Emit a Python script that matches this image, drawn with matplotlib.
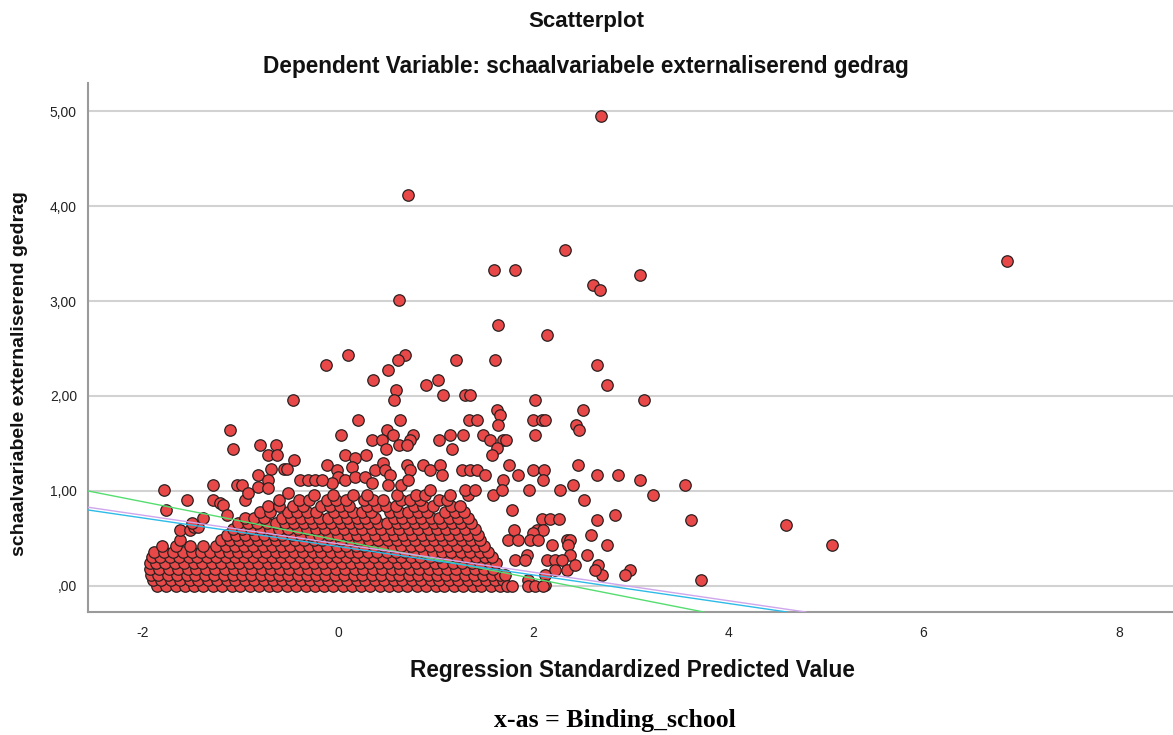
import matplotlib

matplotlib.use("Agg")
import matplotlib.pyplot as plt
import numpy as np

W, H = 1173, 735

# dense part of the cloud, one list of x positions per response level
cloud_levels = [0.00, 0.06, 0.12, 0.18, 0.24, 0.30, 0.36, 0.42, 0.48, 0.54,
                0.60, 0.66, 0.72, 0.78, 0.84, 0.90, 0.96]
cloud_rows = [
    [-1.85, -1.76, -1.66, -1.57, -1.47, -1.38, -1.28, -1.19, -1.09, -1.00, -0.90, -0.81,
     -0.71, -0.62, -0.52, -0.43, -0.33, -0.24, -0.14, -0.05, 0.05, 0.14, 0.24, 0.33,
     0.43, 0.52, 0.62, 0.71, 0.81, 0.90, 1.00, 1.09, 1.19, 1.28, 1.38, 1.47, 1.57, 1.66],
    [-1.90, -1.81, -1.71, -1.62, -1.52, -1.43, -1.33, -1.24, -1.14, -1.05, -0.95, -0.86,
     -0.76, -0.67, -0.57, -0.48, -0.38, -0.29, -0.19, -0.10, 0.00, 0.09, 0.19, 0.28,
     0.38, 0.47, 0.57, 0.66, 0.76, 0.85, 0.95, 1.04, 1.14, 1.23, 1.33, 1.42, 1.52, 1.61, 1.69],
    [-1.92, -1.84, -1.74, -1.65, -1.55, -1.46, -1.36, -1.27, -1.17, -1.08, -0.98, -0.89,
     -0.79, -0.70, -0.60, -0.51, -0.41, -0.32, -0.22, -0.13, -0.03, 0.06, 0.16, 0.25,
     0.35, 0.44, 0.54, 0.63, 0.73, 0.82, 0.92, 1.01, 1.11, 1.20, 1.30, 1.39, 1.49, 1.58, 1.66],
    [-1.93, -1.83, -1.73, -1.64, -1.54, -1.45, -1.35, -1.26, -1.16, -1.07, -0.97, -0.88,
     -0.78, -0.69, -0.59, -0.50, -0.40, -0.31, -0.21, -0.12, -0.02, 0.07, 0.17, 0.26,
     0.36, 0.45, 0.55, 0.64, 0.74, 0.83, 0.93, 1.02, 1.12, 1.21, 1.31, 1.40, 1.50, 1.59],
    [-1.93, -1.86, -1.77, -1.67, -1.58, -1.48, -1.39, -1.29, -1.20, -1.10, -1.01, -0.91,
     -0.82, -0.72, -0.63, -0.53, -0.44, -0.34, -0.25, -0.15, -0.06, 0.04, 0.13, 0.23,
     0.32, 0.42, 0.51, 0.61, 0.70, 0.80, 0.89, 0.99, 1.08, 1.18, 1.27, 1.37, 1.46, 1.56, 1.62],
    [-1.91, -1.82, -1.72, -1.63, -1.53, -1.44, -1.34, -1.25, -1.15, -1.06, -0.96, -0.87,
     -0.77, -0.68, -0.58, -0.49, -0.39, -0.30, -0.20, -0.11, -0.01, 0.08, 0.18, 0.27,
     0.37, 0.46, 0.56, 0.65, 0.75, 0.84, 0.94, 1.03, 1.13, 1.22, 1.32, 1.41, 1.51, 1.58],
    [-1.88, -1.78, -1.69, -1.59, -1.50, -1.40, -1.31, -1.21, -1.12, -1.02, -0.93, -0.83,
     -0.74, -0.64, -0.55, -0.45, -0.36, -0.26, -0.17, -0.07, 0.02, 0.12, 0.21, 0.31,
     0.40, 0.50, 0.59, 0.69, 0.78, 0.88, 0.97, 1.07, 1.16, 1.26, 1.35, 1.45, 1.54],
    [-1.80, -1.66, -1.52, -1.38, -1.25, -1.15, -1.06, -0.96, -0.87, -0.77, -0.68, -0.58,
     -0.49, -0.39, -0.30, -0.20, -0.11, -0.01, 0.08, 0.18, 0.27, 0.37, 0.46, 0.56,
     0.65, 0.75, 0.84, 0.94, 1.03, 1.13, 1.22, 1.32, 1.41, 1.50],
    [-1.20, -1.11, -1.01, -0.92, -0.82, -0.73, -0.63, -0.54, -0.44, -0.35, -0.25, -0.16,
     -0.06, 0.03, 0.13, 0.22, 0.32, 0.41, 0.51, 0.60, 0.70, 0.79, 0.89, 0.98,
     1.08, 1.17, 1.27, 1.36, 1.46],
    [-1.14, -1.04, -0.95, -0.85, -0.76, -0.66, -0.57, -0.47, -0.38, -0.28, -0.19, -0.09,
     0.00, 0.10, 0.19, 0.29, 0.38, 0.48, 0.57, 0.67, 0.76, 0.86, 0.95, 1.05,
     1.14, 1.24, 1.33, 1.43],
    [-1.08, -0.98, -0.89, -0.79, -0.70, -0.60, -0.51, -0.41, -0.32, -0.22, -0.13, -0.03,
     0.06, 0.16, 0.25, 0.35, 0.44, 0.54, 0.63, 0.73, 0.82, 0.92, 1.01, 1.11,
     1.20, 1.30, 1.40],
    [-1.02, -0.92, -0.83, -0.73, -0.64, -0.54, -0.45, -0.35, -0.26, -0.16, -0.07, 0.03,
     0.12, 0.22, 0.31, 0.41, 0.50, 0.60, 0.69, 0.79, 0.88, 0.98, 1.07, 1.17,
     1.26, 1.36],
    [-0.95, -0.86, -0.76, -0.57, -0.48, -0.38, -0.29, -0.19, -0.10, 0.00, 0.09, 0.19,
     0.28, 0.38, 0.57, 0.66, 0.76, 0.85, 0.95, 1.04, 1.14, 1.23, 1.33],
    [-0.80, -0.70, -0.51, -0.42, -0.32, -0.23, -0.04, 0.06, 0.15, 0.25, 0.34, 0.53,
     0.63, 0.72, 0.82, 0.91, 1.10, 1.20, 1.29],
    [-0.72, -0.60, -0.46, -0.36, -0.17, -0.08, 0.02, 0.11, 0.30, 0.40, 0.49, 0.59,
     0.78, 0.87, 0.97, 1.16, 1.25],
    [-0.60, -0.40, -0.30, -0.11, -0.02, 0.08, 0.27, 0.36, 0.46, 0.65, 0.74, 0.84, 1.03, 1.12],
    [-0.25, -0.05, 0.15, 0.30, 0.60, 0.80, 0.89, 1.15, 1.33, 1.59],
]

# individual points outside the dense cloud
sparse_x = [
    2.69, 0.72, 2.33, 6.85, 1.60, 1.81, 3.09, 2.61, 2.68, 0.63, 1.64, 2.14,
    0.10, 0.69, 0.62, 1.21, 1.61, -0.12, 2.65, 0.51, 0.36, 1.02, 0.90, 2.76,
    0.59, 1.08, 1.30, 1.35, -0.46, 0.57, 2.02, 3.14, 1.63, 2.51, 1.66, 0.21,
    0.64, 1.34, 1.42, 2.00, 2.09, 2.12, 1.64, 2.44, 2.47, -1.11, 0.50, 0.03,
    0.56, 0.77, 1.15, 1.28, 1.49, 2.02, 0.35, 0.45, 0.74, 1.03, 1.56, 1.69,
    1.72, -0.80, -0.64, 0.49, 0.63, 0.71, 1.63, -1.08, 1.17, -0.72, -0.62, 0.07,
    0.29, 1.58, 0.17, -0.45,
    -0.11, -0.01, 0.14, 0.00, 0.07, 0.17, 0.28, 0.38, 0.46, 0.35, -0.06,
    -0.69, -0.55, -0.52, -0.82, -0.72, -0.82, -0.72, -0.51, -0.39, -0.31, -0.24, -0.16,
    0.48, 0.53, 0.71, 0.74, 0.87, 0.94, 1.05, 1.07, 1.27, 1.35, 1.42, 1.51,
    1.69, 0.51, 0.65, 0.72, 0.94, 1.30, 1.40, 1.68, 1.75, 1.84, 2.00, 2.11,
    2.10, 2.46, 2.65, 2.87, 3.09, 1.96, 2.27, 2.41, 3.56, 3.23, 2.52,
    -1.78, -1.76, -1.55, -1.28, -1.28, -1.03, -0.98, -0.95, -1.21, -1.18, -1.14, -0.92,
    -1.62, -1.62, -1.52, -1.48, -1.43, -1.50, -1.38,
    1.78, 2.84, 2.65, 3.62, 4.59, 5.06, 2.09, 2.17, 2.26, 1.80, 2.04, 2.10,
    2.00, 2.59, 1.74, 1.84, 1.97, 2.05, 2.35, 2.38, 2.19, 2.36, 2.76, 2.38,
    2.55, 1.94, 1.81, 1.92, 2.14, 2.22, 2.30, 2.22, 2.35, 2.43, 2.66, 2.70,
    2.63, 2.99, 2.94, 2.12, 2.12, 1.95, 1.71, 3.72, 1.73, 1.78, 1.95, 2.02, 2.10,
]
sparse_y = [
    4.95, 4.12, 3.54, 3.42, 3.33, 3.33, 3.27, 3.17, 3.12, 3.01, 2.75, 2.64,
    2.43, 2.43, 2.38, 2.38, 2.38, 2.33, 2.33, 2.27, 2.17, 2.17, 2.12, 2.12,
    2.06, 2.01, 2.01, 2.01, 1.96, 1.96, 1.96, 1.96, 1.85, 1.85, 1.80, 1.75,
    1.75, 1.75, 1.75, 1.75, 1.75, 1.75, 1.69, 1.69, 1.64, 1.64, 1.64, 1.59,
    1.59, 1.59, 1.59, 1.59, 1.59, 1.59, 1.54, 1.54, 1.54, 1.54, 1.54, 1.54,
    1.54, 1.48, 1.48, 1.44, 1.48, 1.48, 1.45, 1.44, 1.44, 1.38, 1.38, 1.38,
    1.38, 1.38, 1.35, 1.33,
    1.27, 1.22, 1.25, 1.15, 1.12, 1.15, 1.15, 1.22, 1.29, 1.08, 1.08,
    1.23, 1.23, 1.23, 1.17, 1.12, 1.04, 1.03, 0.98, 1.12, 1.12, 1.12, 1.12,
    1.22, 1.17, 1.27, 1.22, 1.27, 1.22, 1.27, 1.17, 1.22, 1.22, 1.22, 1.17,
    1.12, 1.06, 1.06, 1.12, 1.01, 1.01, 1.01, 1.01, 1.27, 1.17, 1.22, 1.22,
    1.12, 1.27, 1.17, 1.17, 1.12, 1.01, 1.01, 1.06, 1.06, 0.96, 0.91,
    1.01, 0.80, 0.91, 1.06, 0.91, 1.06, 1.06, 0.91, 0.87, 0.85, 0.75, 0.98,
    0.48, 0.59, 0.59, 0.62, 0.62, 0.66, 0.72,
    0.80, 0.75, 0.69, 0.69, 0.64, 0.43, 0.70, 0.70, 0.70, 0.59, 0.59, 0.59,
    0.56, 0.54, 0.48, 0.48, 0.48, 0.48, 0.48, 0.48, 0.43, 0.43, 0.43, 0.33,
    0.33, 0.33, 0.27, 0.27, 0.27, 0.27, 0.27, 0.17, 0.17, 0.22, 0.22, 0.12,
    0.17, 0.17, 0.12, 0.12, 0.01, 0.06, 0.12, 0.06, 0.00, 0.00, 0.00, 0.00, 0.00,
]

# fit lines (intercept at x = 0, slope)
fit_intercepts = [0.483, 0.445, 0.416]
fit_slopes = [-0.202, -0.150, -0.150]
fit_colors = ["#55dd70", "#cfa6ec", "#2dbbe8"]

y_ticks = [0, 1, 2, 3, 4, 5]
y_labels = [",00", "1,00", "2,00", "3,00", "4,00", "5,00"]
x_ticks = [-2, 0, 2, 4, 6, 8]

cloud_x = np.concatenate([np.asarray(row) for row in cloud_rows])
cloud_y = np.concatenate([np.full(len(row), lvl) for lvl, row in zip(cloud_levels, cloud_rows)])
x = np.concatenate([cloud_x, sparse_x])
y = np.concatenate([cloud_y, sparse_y])

plt.rcParams["font.family"] = ["Liberation Sans", "DejaVu Sans"]

fig = plt.figure(figsize=(W / 100, H / 100), dpi=100)
ax = fig.add_axes([88 / W, 1 - 612 / H, (W - 88) / W, (612 - 83) / H])

ax.scatter(x, y, s=68, facecolor="#e84848", edgecolor="#2a2020", linewidth=0.9, zorder=3)
for b, m, c in zip(fit_intercepts, fit_slopes, fit_colors):
    ax.axline((0, b), slope=m, color=c, linewidth=1.0, zorder=4)

ax.set_xlim(-2.561, 8.555)
ax.set_ylim(-0.274, 5.295)
ax.set_yticks(y_ticks, y_labels)
ax.set_xticks(x_ticks, [str(t) for t in x_ticks])
ax.tick_params(length=0, labelsize=10, labelcolor="#222222")
ax.tick_params(axis="y", pad=8)
ax.tick_params(axis="x", pad=10)
ax.grid(axis="y", color="#d2d2d2", linewidth=1.5, zorder=0)
ax.set_axisbelow(True)
for side in ("top", "right"):
    ax.spines[side].set_visible(False)
for side in ("left", "bottom"):
    ax.spines[side].set_color("#9a9a9a")
    ax.spines[side].set_linewidth(1.5)

fig.text(586 / W, 1 - 22 / H, "Scatterplot", ha="center", va="center",
         fontsize=16, fontweight="bold", color="#111111")
fig.text(586 / W, 1 - 67 / H, "Dependent Variable: schaalvariabele externaliserend gedrag",
         ha="center", va="center", fontsize=16.3, fontweight="bold", color="#111111")
fig.text(632 / W, 1 - 670 / H, "Regression Standardized Predicted Value",
         ha="center", va="center", fontsize=16.3, fontweight="bold", color="#111111")
fig.text(20 / W, 1 - 374 / H, "schaalvariabele externaliserend gedrag", rotation=90,
         ha="center", va="center", fontsize=14, fontweight="bold", color="#111111")
fig.text(615 / W, 1 - 721 / H, "x-as = Binding_school", ha="center", va="center",
         fontsize=18.5, fontweight="bold", family="Liberation Serif", color="black")

fig.savefig("out.png", dpi=100)
